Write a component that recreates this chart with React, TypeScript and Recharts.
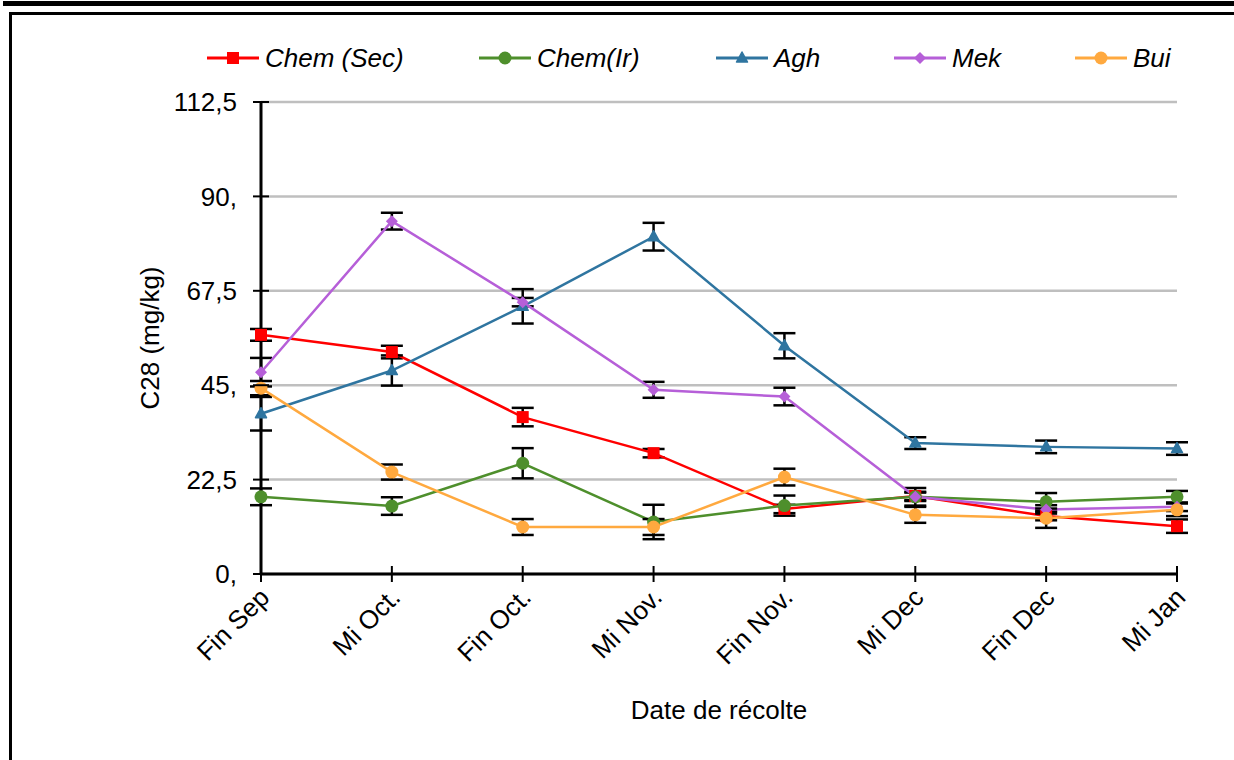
import React from 'react';
import { LineChart, Line, XAxis, YAxis, CartesianGrid, ErrorBar } from 'recharts';

const categories = ['Fin Sep', 'Mi Oct.', 'Fin Oct.', 'Mi Nov.', 'Fin Nov.', 'Mi Dec', 'Fin Dec', 'Mi Jan'];
const chemSec = [57.0, 52.9, 37.4, 28.8, 15.5, 18.6, 13.8, 11.4];
const chemSecErr = [1.4, 1.5, 2.2, 1.0, 1.0, 1.0, 1.0, 1.6];
const chemIr = [18.4, 16.2, 26.4, 12.4, 16.3, 18.4, 17.2, 18.4];
const chemIrErr = [2.0, 2.1, 3.6, 4.1, 2.4, 2.1, 2.1, 1.4];
const agh = [38.2, 48.5, 63.8, 80.4, 54.4, 31.2, 30.3, 29.9];
const aghErr = [4.0, 3.6, 4.1, 3.3, 3.0, 1.4, 1.5, 1.5];
const mek = [48.1, 84.1, 64.8, 43.9, 42.3, 18.4, 15.4, 16.0];
const mekErr = [3.4, 2.0, 1.0, 1.9, 2.1, 1.0, 1.0, 1.0];
const bui = [44.3, 24.3, 11.2, 11.2, 23.1, 14.1, 13.3, 15.3];
const buiErr = [1.7, 1.8, 1.9, 1.9, 2.0, 1.9, 2.3, 1.5];
const yTicks = [0, 22.5, 45, 67.5, 90, 112.5];
const yTickLabels = ['0,', '22,5', '45,', '67,5', '90,', '112,5'];

const seriesNames = ['Chem (Sec)', 'Chem(Ir)', 'Agh', 'Mek', 'Bui'];
const seriesKeys = ['sec', 'ir', 'agh', 'mek', 'bui'];
const seriesColors = ['#FF0000', '#4E8F2C', '#2F75A0', '#B65FD8', '#FFA93F'];
const seriesShapes = ['square', 'circle', 'triangle', 'diamond', 'circle'];

const data = categories.map((c, i) => ({
  name: c,
  sec: chemSec[i], secErr: chemSecErr[i],
  ir: chemIr[i], irErr: chemIrErr[i],
  agh: agh[i], aghErr: aghErr[i],
  mek: mek[i], mekErr: mekErr[i],
  bui: bui[i], buiErr: buiErr[i],
}));

const FONT = '"Liberation Sans", Arial, sans-serif';
const FS = 26;

function Marker({ cx, cy, shape, color }: any) {
  if (cx == null || cy == null) return null;
  if (shape === 'square') return <rect x={cx - 6} y={cy - 6} width={12} height={12} fill={color} />;
  if (shape === 'circle') return <circle cx={cx} cy={cy} r={6.5} fill={color} />;
  if (shape === 'triangle')
    return <polygon points={`${cx},${cy - 6} ${cx + 5.5},${cy + 4} ${cx - 5.5},${cy + 4}`} fill={color} stroke={color} strokeWidth={1.5} strokeLinejoin="round" />;
  return <polygon points={`${cx},${cy - 6} ${cx + 6},${cy} ${cx},${cy + 6} ${cx - 6},${cy}`} fill={color} />;
}

const TICK_SIZE = 8;
const Y_TICK_MARGIN = 16;
const X_TICK_MARGIN = 6;

function YTick(props: any) {
  const { x, y, index } = props;
  const axisX = x + TICK_SIZE + Y_TICK_MARGIN;
  return (
    <g>
      <line x1={axisX - TICK_SIZE} x2={axisX + TICK_SIZE} y1={y} y2={y} stroke="#000" strokeWidth={2} />
      <text x={x} y={y} dy="0.35em" textAnchor="end" fontFamily={FONT} fontSize={FS} fill="#000">
        {yTickLabels[index]}
      </text>
    </g>
  );
}

function XTick(props: any) {
  const { x, y, payload } = props;
  const axisY = y - TICK_SIZE - X_TICK_MARGIN;
  const ax = x + 10;
  const ay = y + 11;
  return (
    <g>
      <line x1={x} x2={x} y1={axisY - TICK_SIZE} y2={axisY + TICK_SIZE} stroke="#000" strokeWidth={2} />
      <text x={ax} y={ay} textAnchor="end" transform={`rotate(-45 ${ax} ${ay})`} fontFamily={FONT} fontSize={FS} fill="#000">
        {payload.value}
      </text>
    </g>
  );
}

function YLabel(props: any) {
  const vb = props.viewBox || {};
  const cx = vb.x + 150;
  const cy = vb.y + vb.height / 2;
  return (
    <text x={cx} y={cy} textAnchor="middle" dominantBaseline="central" transform={`rotate(-90 ${cx} ${cy})`} fontFamily={FONT} fontSize={FS} fill="#000">
      C28 (mg/kg)
    </text>
  );
}

function XLabel(props: any) {
  const vb = props.viewBox || {};
  const cx = vb.x + vb.width / 2;
  const cy = vb.y + 136;
  return (
    <text x={cx} y={cy} textAnchor="middle" dominantBaseline="central" fontFamily={FONT} fontSize={FS} fill="#000">
      Date de récolte
    </text>
  );
}

const legendLeft = [207, 479, 716, 894, 1075];

function LegendOverlay() {
  return (
    <div style={{ position: 'absolute', left: 0, top: 40, width: 1234, height: 36 }}>
      {seriesNames.map((n, i) => (
        <div key={n} style={{ position: 'absolute', left: legendLeft[i], top: 0, height: 36, display: 'flex', alignItems: 'center' }}>
          <svg width={52} height={20} style={{ display: 'block' }}>
            <line x1={0} x2={52} y1={10} y2={10} stroke={seriesColors[i]} strokeWidth={3} />
            <Marker cx={26} cy={10} shape={seriesShapes[i]} color={seriesColors[i]} />
          </svg>
          <span style={{ marginLeft: 6, fontFamily: FONT, fontStyle: 'italic', fontSize: FS, lineHeight: '36px', color: '#000', whiteSpace: 'nowrap' }}>{n}</span>
        </div>
      ))}
    </div>
  );
}

export default function App() {
  return (
    <div style={{ position: 'absolute', left: 0, top: 0, width: 1234, height: 760, background: '#fff', overflow: 'hidden' }}>
      <div style={{ position: 'absolute', left: 3, right: 0, top: 1, height: 5, background: '#000' }} />
      <div style={{ position: 'absolute', left: 9, right: -20, top: 12, bottom: -20, borderLeft: '3px solid #000', borderTop: '3px solid #000' }} />
      <div style={{ position: 'absolute', left: 0, top: 0 }}>
        <LineChart width={1234} height={760} data={data} margin={{ top: 102, right: 57, bottom: 0, left: 0 }}>
          <CartesianGrid horizontal vertical={false} stroke="#BFBFBF" strokeWidth={2.5} />
          <XAxis
            dataKey="name"
            scale="point"
            padding={{ left: 0, right: 0 }}
            height={186}
            interval={0}
            axisLine={{ stroke: '#000', strokeWidth: 3 }}
            tickLine={false}
            tickSize={TICK_SIZE}
            tickMargin={X_TICK_MARGIN}
            tick={<XTick />}
            label={<XLabel />}
          />
          <YAxis
            width={261}
            domain={[0, 112.5]}
            ticks={yTicks}
            interval={0}
            allowDecimals
            axisLine={{ stroke: '#000', strokeWidth: 3 }}
            tickLine={false}
            tickSize={TICK_SIZE}
            tickMargin={Y_TICK_MARGIN}
            tick={<YTick />}
            label={<YLabel />}
          />
          {seriesKeys.map((k, i) => (
            <Line
              key={k}
              dataKey={k}
              name={seriesNames[i]}
              stroke={seriesColors[i]}
              strokeWidth={2.5}
              isAnimationActive={false}
              dot={(p: any) => <Marker key={`${k}-${p.index}`} cx={p.cx} cy={p.cy} shape={seriesShapes[i]} color={seriesColors[i]} />}
              activeDot={false}
            >
              <ErrorBar dataKey={`${k}Err`} width={11} stroke="#000" strokeWidth={2.5} direction="y" />
            </Line>
          ))}
        </LineChart>
      </div>
      <LegendOverlay />
    </div>
  );
}
